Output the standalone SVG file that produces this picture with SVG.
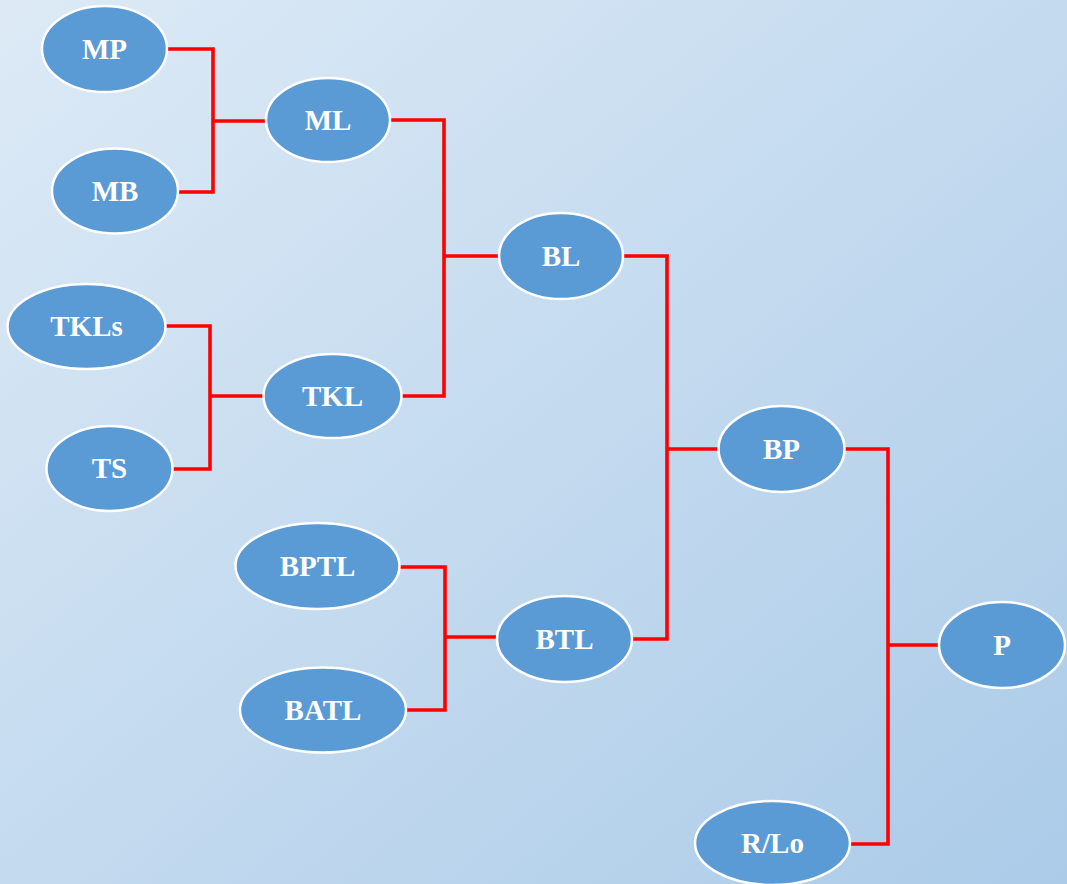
<svg xmlns="http://www.w3.org/2000/svg" width="1067" height="884" viewBox="0 0 1067 884">
<defs>
<linearGradient id="bg" x1="0" y1="0" x2="1" y2="1">
<stop offset="0" stop-color="#DDEAF6"/>
<stop offset="1" stop-color="#ABCBE8"/>
</linearGradient>
<style>
.n ellipse{fill:#5B9BD5;stroke:#FFFFFF;stroke-width:2.5}
.n text{fill:#FFFFFF;font-family:"Liberation Serif","DejaVu Serif",serif;font-weight:bold;font-size:29px;text-anchor:middle}
.c path{fill:none;stroke:#FF0000;stroke-width:3.6}
</style>
</defs>
<rect x="0" y="0" width="1067" height="884" fill="url(#bg)"/>
<g id="connectors" class="c">
<path d="M167,49 H213 V192 H178"/>
<path d="M213,121 H266"/>
<path d="M390,120 H444 V396 H402"/>
<path d="M444,256 H498"/>
<path d="M166,326 H210 V469 H173"/>
<path d="M210,396 H263"/>
<path d="M400,567 H445 V710 H406"/>
<path d="M445,637 H497"/>
<path d="M623,256 H667 V639 H632"/>
<path d="M667,449 H718"/>
<path d="M845,449 H888 V844 H850"/>
<path d="M888,645 H939"/>
</g>
<g id="MP" class="n"><ellipse cx="104.5" cy="49" rx="62.5" ry="43"/><text x="104.5" y="58.5">MP</text></g>
<g id="MB" class="n"><ellipse cx="115" cy="191" rx="63" ry="42.5"/><text x="115" y="200.5">MB</text></g>
<g id="ML" class="n"><ellipse cx="328" cy="120" rx="62" ry="42"/><text x="328" y="129.5">ML</text></g>
<g id="TKLs" class="n"><ellipse cx="86.5" cy="326.5" rx="79" ry="42.5"/><text x="86.5" y="336">TKLs</text></g>
<g id="TS" class="n"><ellipse cx="109.5" cy="468.5" rx="63" ry="42.5"/><text x="109.5" y="478">TS</text></g>
<g id="TKL" class="n"><ellipse cx="332.5" cy="396" rx="69" ry="42"/><text x="332.5" y="405.5">TKL</text></g>
<g id="BL" class="n"><ellipse cx="561" cy="256" rx="62" ry="43"/><text x="561" y="265.5">BL</text></g>
<g id="BPTL" class="n"><ellipse cx="317.5" cy="566" rx="82" ry="43"/><text x="317.5" y="575.5">BPTL</text></g>
<g id="BATL" class="n"><ellipse cx="323" cy="710" rx="83" ry="42.5"/><text x="323" y="719.5">BATL</text></g>
<g id="BTL" class="n"><ellipse cx="564.5" cy="639" rx="67.5" ry="43"/><text x="564.5" y="648.5">BTL</text></g>
<g id="BP" class="n"><ellipse cx="781.5" cy="449" rx="63" ry="43"/><text x="781.5" y="458.5">BP</text></g>
<g id="P" class="n"><ellipse cx="1002" cy="645" rx="63" ry="43"/><text x="1002" y="654.5">P</text></g>
<g id="RLo" class="n"><ellipse cx="772.5" cy="843" rx="77.5" ry="42"/><text x="772.5" y="852.5">R/Lo</text></g>
</svg>
